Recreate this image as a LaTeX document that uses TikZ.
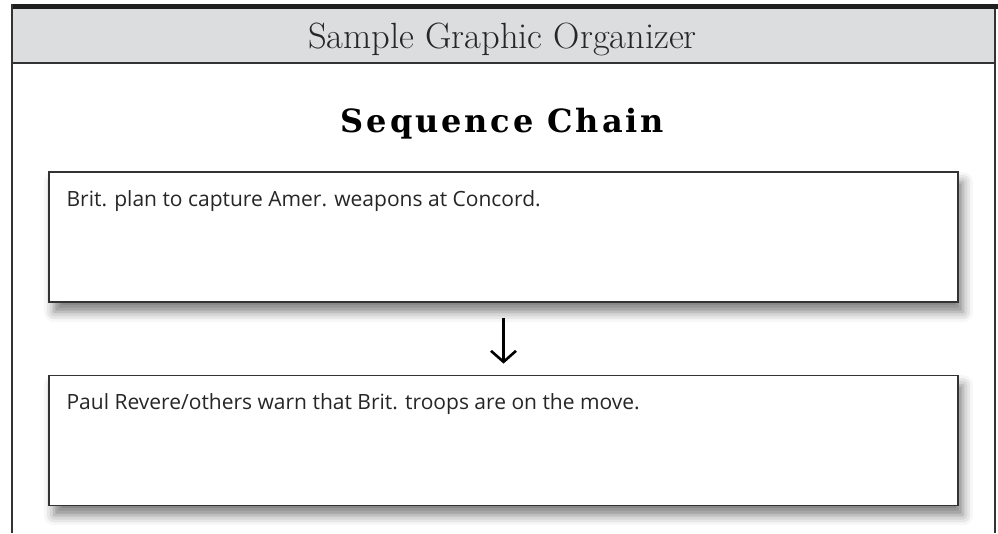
\documentclass[tikz,border=0pt]{standalone}
\usepackage{fontspec}
\newfontfamily\headfont{Latin Modern Roman}
\newfontfamily\titlefont[LetterSpace=9]{DejaVu Serif}
\newfontfamily\handfont{Open Sans}
\usetikzlibrary{positioning,arrows.meta,shadows.blur}
\definecolor{bandgray}{HTML}{DCDDDF}
\definecolor{framegray}{HTML}{333333}
\tikzset{
  eventbox/.style={draw=framegray, line width=1.2pt, fill=white, minimum width=909pt, minimum height=130pt,
    inner sep=0pt, blur shadow={shadow xshift=5pt, shadow yshift=-10pt, shadow blur radius=10pt, shadow opacity=50}},
  eventtext/.style={anchor=north west, inner sep=0pt, font=\handfont\fontsize{21}{24}\selectfont, text=black!85},
  chainarrow/.style={line width=2.6pt, -{Straight Barb[length=11pt, width=25pt, line width=2.6pt]}}
}
\begin{document}
\begin{tikzpicture}[x=1pt, y=-1pt]
\useasboundingbox (0,0) rectangle (998,533);
% header band
\fill[bandgray] (12,9) rectangle (995,63);
\fill[black!88] (12,4) rectangle (998,9);
\draw[framegray, line width=2pt] (12,63) -- (995,63);
\draw[framegray, line width=1.6pt] (12,4) -- (12,533);
\draw[framegray, line width=2pt] (995,9) -- (995,533);
\node (header) [anchor=base, inner sep=0pt, font=\headfont\fontsize{36.5}{40}\selectfont, text=black!85] at (502.5,48) {Sample Graphic Organizer};
\node (title) [anchor=base, inner sep=0pt, font=\titlefont\bfseries\fontsize{32}{36}\selectfont] at (502.5,132) {Sequence Chain};
% the chain
\node (first) [eventbox] at (503.5,237) {};
\node (second) [eventbox, below=72pt of first] {};
\node (firsttext) [eventtext] at ([xshift=18pt, yshift=-19pt]first.north west) {Brit. plan to capture Amer. weapons at Concord.};
\node (secondtext) [eventtext] at ([xshift=18pt, yshift=-19pt]second.north west) {Paul Revere/others warn that Brit. troops are on the move.};
\draw[chainarrow, shorten <=15pt, shorten >=11pt] (first.south) -- (second.north);
\end{tikzpicture}
\end{document}
